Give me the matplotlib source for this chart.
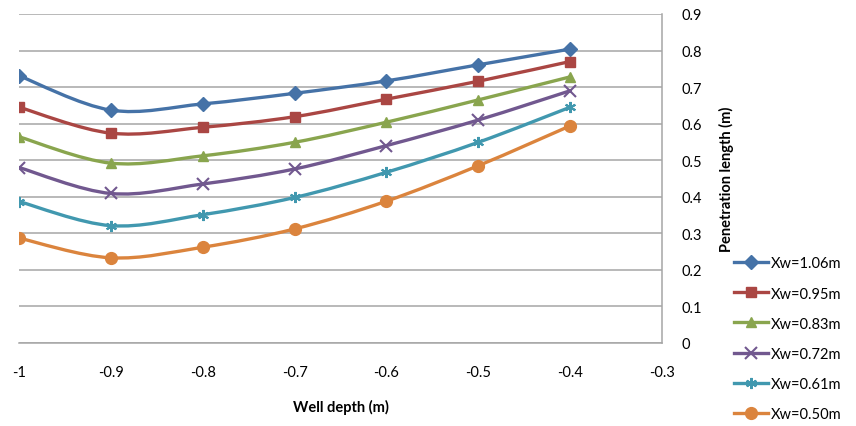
import matplotlib
matplotlib.use('Agg')
import matplotlib.pyplot as plt
from matplotlib.path import Path
from matplotlib.patches import PathPatch
from matplotlib.lines import Line2D

depth = [-1.0, -0.9, -0.8, -0.7, -0.6, -0.5, -0.4]

labels = ['Xw=1.06m', 'Xw=0.95m', 'Xw=0.83m', 'Xw=0.72m', 'Xw=0.61m', 'Xw=0.50m']
xw_106 = [0.731, 0.637, 0.654, 0.683, 0.717, 0.761, 0.804]
xw_095 = [0.645, 0.574, 0.590, 0.619, 0.667, 0.716, 0.770]
xw_083 = [0.564, 0.492, 0.512, 0.549, 0.604, 0.665, 0.728]
xw_072 = [0.480, 0.409, 0.435, 0.476, 0.540, 0.610, 0.690]
xw_061 = [0.387, 0.321, 0.351, 0.398, 0.467, 0.549, 0.645]
xw_050 = [0.287, 0.233, 0.262, 0.312, 0.388, 0.485, 0.594]

x_ticks = [-1, -0.9, -0.8, -0.7, -0.6, -0.5, -0.4, -0.3]
x_tick_labels = ['-1', '-0.9', '-0.8', '-0.7', '-0.6', '-0.5', '-0.4', '-0.3']
y_ticks = [0, 0.1, 0.2, 0.3, 0.4, 0.5, 0.6, 0.7, 0.8, 0.9]
y_tick_labels = ['0', '0.1', '0.2', '0.3', '0.4', '0.5', '0.6', '0.7', '0.8', '0.9']

series = [xw_106, xw_095, xw_083, xw_072, xw_061, xw_050]
colors = ['#4572A7', '#AA4643', '#89A54E', '#71588F', '#4198AF', '#DB843D']
markers = ['D', 's', '^', 'x', (6, 2, 0), 'o']
msizes = [7, 7.5, 7.5, 8, 8, 8.5]

plt.rcParams['font.family'] = ['Lato', 'DejaVu Sans']


def smooth_path(xs, ys):
    # excel style smoothed line: catmull-rom as cubic bezier segments
    pts = list(zip(xs, ys))
    n = len(pts)
    verts = [pts[0]]
    codes = [Path.MOVETO]
    for i in range(n - 1):
        p0 = pts[i - 1] if i > 0 else pts[i]
        p1 = pts[i]
        p2 = pts[i + 1]
        p3 = pts[i + 2] if i + 2 < n else pts[i + 1]
        c1 = (p1[0] + (p2[0] - p0[0]) / 6, p1[1] + (p2[1] - p0[1]) / 6)
        c2 = (p2[0] - (p3[0] - p1[0]) / 6, p2[1] - (p3[1] - p1[1]) / 6)
        verts += [c1, c2, p2]
        codes += [Path.CURVE4] * 3
    return Path(verts, codes)


fig = plt.figure(figsize=(8.56, 4.27), dpi=100)
ax = fig.add_axes([0.0222, 0.1944, 0.7512, 0.7705])

handles = []
for ys, col, mk, ms, lab in zip(series, colors, markers, msizes, labels):
    patch = PathPatch(smooth_path(depth, ys), facecolor='none', edgecolor=col,
                      linewidth=2.4, zorder=3, capstyle='round')
    ax.add_patch(patch)
    mew = 1.5 if mk in ('x', (6, 2, 0)) else 1
    ax.plot(depth, ys, linestyle='none', marker=mk, markersize=ms, color=col,
            markeredgecolor=col, markeredgewidth=mew, zorder=4)
    handles.append(Line2D([0], [0], color=col, linewidth=2.4, marker=mk,
                          markersize=ms, markeredgewidth=mew, label=lab))

ax.set_xlim(-1, -0.3)
ax.set_ylim(0, 0.9)
ax.set_xticks(x_ticks)
ax.set_xticklabels(x_tick_labels)
ax.set_yticks(y_ticks)
ax.set_yticklabels(y_tick_labels)
ax.yaxis.tick_right()
ax.yaxis.set_label_position('right')
ax.tick_params(axis='both', length=0, labelsize=10.5, colors='black')
ax.tick_params(axis='x', pad=16)
ax.tick_params(axis='y', pad=14)
ax.grid(axis='y', color='#A6A6A6', linewidth=1.1)
ax.set_axisbelow(True)
for side in ['left', 'top']:
    ax.spines[side].set_visible(False)
for side in ['right', 'bottom']:
    ax.spines[side].set_color('#A6A6A6')
    ax.spines[side].set_linewidth(1.1)

ax.set_xlabel('Well depth (m)', fontweight='bold', fontsize=10.5, labelpad=14)
ax.set_ylabel('Penetration length (m)', fontweight='bold', fontsize=10.5, labelpad=12)

fig.legend(handles=handles, loc='upper left', bbox_to_anchor=(0.858, 0.397),
           frameon=False, fontsize=10.5, handlelength=2.3, labelspacing=1.1,
           handletextpad=0.2, borderaxespad=0, borderpad=0)

fig.savefig('out.png', dpi=100)
